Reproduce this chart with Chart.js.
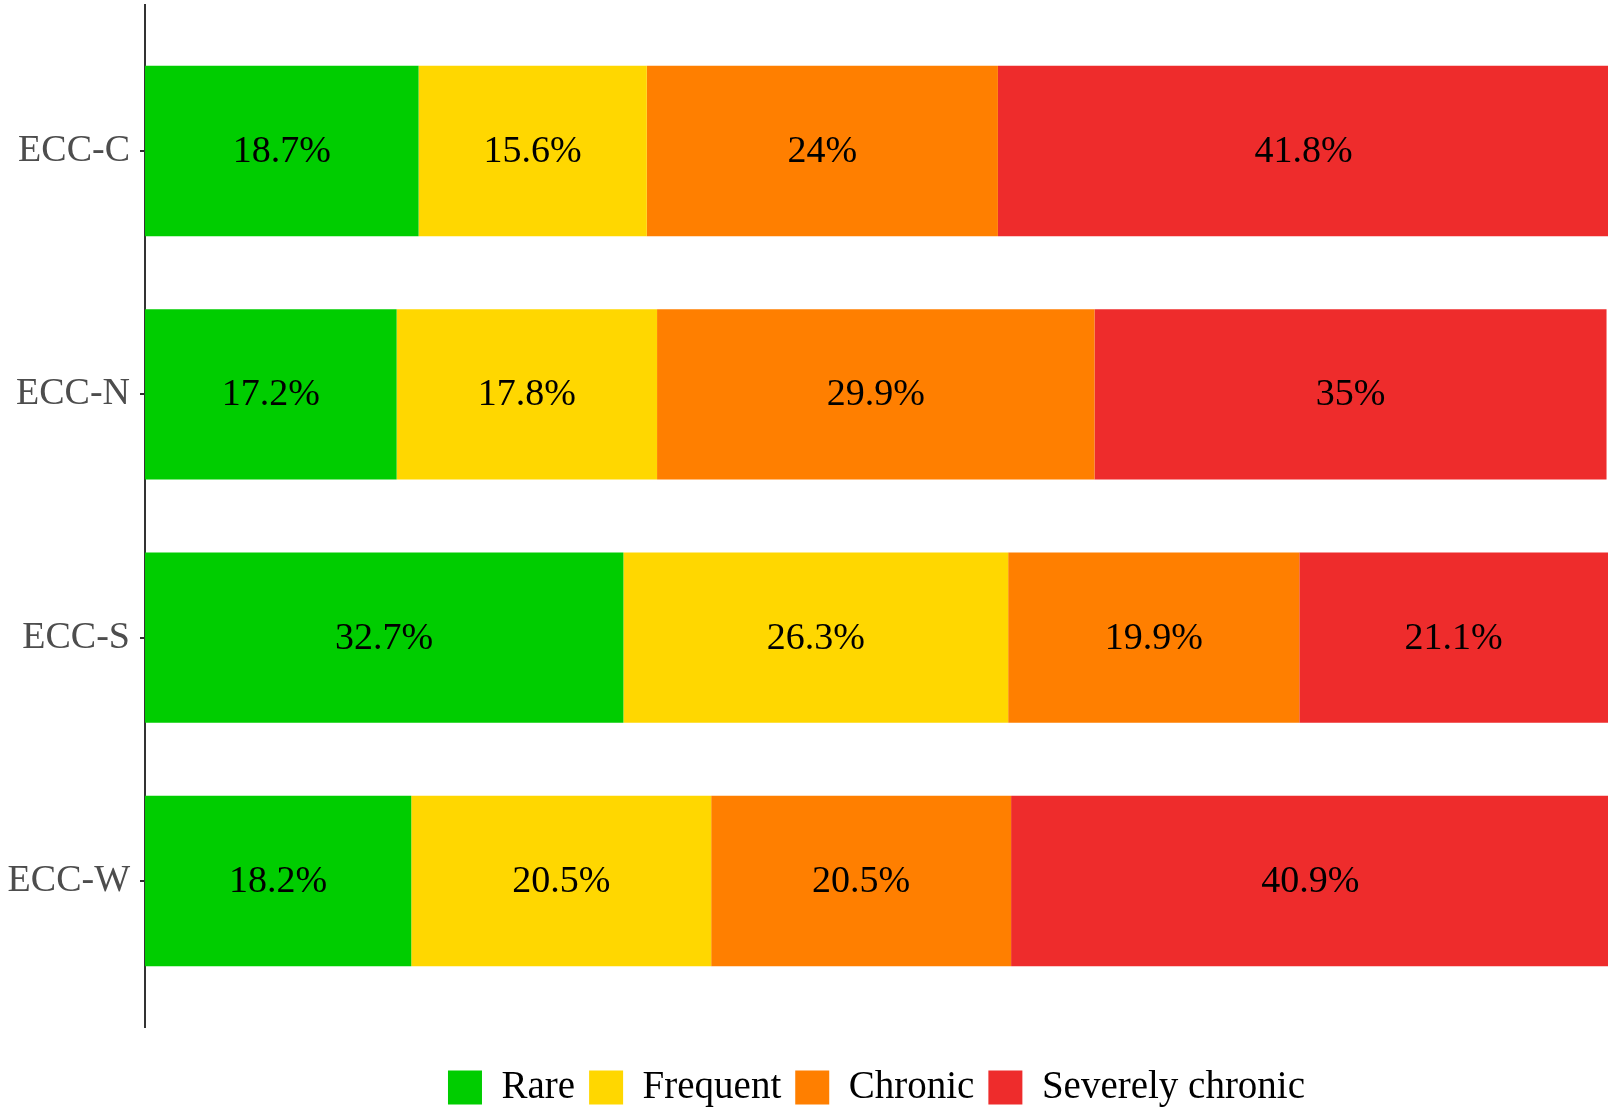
<!DOCTYPE html>
<html>
<head>
<meta charset="utf-8">
<script src="https://cdn.jsdelivr.net/npm/chart.js@4/dist/chart.umd.min.js"></script>
<style>
  html, body { margin: 0; padding: 0; background: #ffffff; }
  #wrap { width: 1612px; height: 1110px; }
</style>
</head>
<body>
<div id="wrap"><canvas id="c" width="1612" height="1110"></canvas></div>
<script>
// ---- data ----
const categories = ['ECC-C', 'ECC-N', 'ECC-S', 'ECC-W'];
const rare       = [18.7, 17.2, 32.7, 18.2];
const frequent   = [15.6, 17.8, 26.3, 20.5];
const chronic    = [24, 29.9, 19.9, 20.5];
const severe     = [41.8, 35, 21.1, 40.9];
const seriesNames = ['Rare', 'Frequent', 'Chronic', 'Severely chronic'];
const seriesColors = ['#00CD00', '#FFD700', '#FF7F00', '#EE2C2C'];
const seriesValues = [rare, frequent, chronic, severe];

const FONT = '"Liberation Serif", "Times New Roman", serif';

const datasets = seriesValues.map((vals, s) => ({
  label: seriesNames[s],
  data: vals.map((v, i) => ({ x: v, y: i })),
  backgroundColor: seriesColors[s],
  borderWidth: 0,
  categoryPercentage: 1,
  barPercentage: 0.7
}));

const barLabels = {
  id: 'barLabels',
  afterDatasetsDraw(chart) {
    const ctx = chart.ctx;
    ctx.save();
    ctx.font = '38px ' + FONT;
    ctx.fillStyle = '#000000';
    ctx.textAlign = 'center';
    ctx.textBaseline = 'middle';
    chart.data.datasets.forEach((ds, di) => {
      const meta = chart.getDatasetMeta(di);
      meta.data.forEach((el, i) => {
        const p = el.getProps(['x', 'y', 'base'], true);
        const v = seriesValues[di][i];
        ctx.fillText(String(v) + '%', (p.x + p.base) / 2, p.y + 1);
      });
    });
    ctx.restore();
  }
};

new Chart(document.getElementById('c'), {
  type: 'bar',
  data: { datasets },
  plugins: [barLabels],
  options: {
    responsive: false,
    animation: false,
    indexAxis: 'y',
    layout: { padding: { top: 5, right: 4, left: 0, bottom: -7 } },
    plugins: {
      tooltip: { enabled: false },
      legend: {
        position: 'bottom',
        fullSize: false,
        align: 'center',
        labels: {
          boxWidth: 34,
          boxHeight: 34,
          padding: 14,
          color: '#000000',
          font: { family: FONT, size: 39 }
        }
      }
    },
    scales: {
      x: {
        type: 'linear',
        stacked: true,
        min: 0,
        max: 100,
        offset: false,
        display: true,
        grid: { display: false, offset: false },
        border: { display: false },
        ticks: { display: false },
        afterFit(scale) { scale.height = 27; scale.paddingLeft = 0; scale.paddingRight = 0; }
      },
      y: {
        type: 'linear',
        stacked: true,
        reverse: true,
        min: -0.6,
        max: 3.6,
        offset: false,
        z: 1,
        afterBuildTicks(scale) {
          scale.ticks = categories.map((c, i) => ({ value: i }));
        },
        afterFit(scale) {
          scale.width = 145;
          scale.paddingTop = 0;
          scale.paddingBottom = 0;
        },
        grid: {
          offset: false,
          drawOnChartArea: false,
          drawTicks: true,
          tickLength: 5,
          color: '#333333',
          lineWidth: 2
        },
        border: { display: true, color: '#333333', width: 2 },
        ticks: {
          padding: 10,
          color: '#4D4D4D',
          font: { family: FONT, size: 38 },
          callback: (v) => categories[v] !== undefined ? categories[v] : ''
        }
      }
    }
  }
});
</script>
</body>
</html>
